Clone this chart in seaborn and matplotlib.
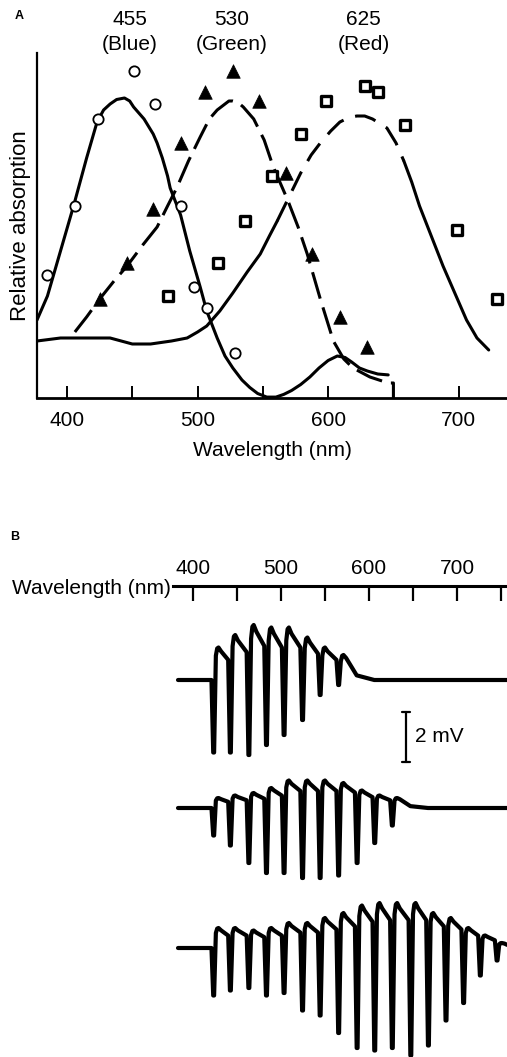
import matplotlib
matplotlib.use("Agg")
import numpy as np
import matplotlib.pyplot as plt
import seaborn as sns

# ---------------- Panel A data (relative absorption) ----------------
BLUE_CURVE_NM = [377, 385, 395, 405, 415, 423, 428, 433, 438, 444, 448, 451, 459, 466, 469, 473, 477, 479,
                 487, 494, 502, 507, 515, 521, 527, 534, 540, 546, 553, 560, 566, 572, 579, 586, 593,
                 600, 607, 613, 618, 624, 630, 638, 646]
BLUE_CURVE_Y = [0.26, 0.34, 0.49, 0.64, 0.80, 0.92, 0.96, 0.98, 0.995, 1.00, 0.99, 0.97, 0.93, 0.88, 0.85,
                0.80, 0.74, 0.70, 0.61, 0.49, 0.37, 0.29, 0.20, 0.14, 0.10, 0.06, 0.035, 0.015, 0.003, 0.003,
                0.012, 0.025, 0.045, 0.07, 0.10, 0.125, 0.14, 0.135, 0.12, 0.10, 0.09, 0.08, 0.077]

GREEN_CURVE_NM = [406, 415, 425, 436, 446, 458, 469, 477, 484, 493, 502, 509, 515, 521, 524, 527, 531,
                  535, 543, 551, 558, 564, 569, 577, 584, 594, 604, 612, 619, 632, 646, 650, 650]
GREEN_CURVE_Y = [0.22, 0.27, 0.33, 0.39, 0.44, 0.51, 0.57, 0.64, 0.70, 0.79, 0.87, 0.93, 0.96, 0.98, 0.99,
                 0.99, 0.985, 0.97, 0.93, 0.86, 0.77, 0.71, 0.66, 0.57, 0.48, 0.33, 0.19, 0.13, 0.10, 0.07,
                 0.05, 0.05, 0.0]

RED_CURVE_NM = [377, 395, 410, 433, 450, 464, 480, 492, 500, 507, 517, 527, 538, 548, 555, 561,
                570, 579, 587, 594, 602, 609, 616, 622, 628, 634, 645, 652, 658, 664, 670, 679, 688,
                697, 706, 714, 723]
RED_CURVE_Y = [0.19, 0.20, 0.20, 0.20, 0.18, 0.18, 0.19, 0.20, 0.22, 0.24, 0.29, 0.35, 0.42, 0.48, 0.54, 0.59,
               0.67, 0.75, 0.81, 0.85, 0.89, 0.92, 0.935, 0.94, 0.94, 0.93, 0.90, 0.85, 0.79, 0.72, 0.64, 0.54,
               0.44, 0.35, 0.26, 0.20, 0.16]

BLUE_PTS_NM = [385, 406, 424, 451, 467, 487, 497, 507, 529]
BLUE_PTS_Y = [0.41, 0.64, 0.93, 1.09, 0.98, 0.64, 0.37, 0.30, 0.15]

GREEN_PTS_NM = [425, 446, 466, 487, 506, 527, 547, 568, 588, 609, 630]
GREEN_PTS_Y = [0.33, 0.45, 0.63, 0.85, 1.02, 1.09, 0.99, 0.75, 0.48, 0.27, 0.17]

RED_PTS_NM = [477, 516, 536, 557, 579, 598, 628, 638, 659, 699, 729]
RED_PTS_Y = [0.34, 0.45, 0.59, 0.74, 0.88, 0.99, 1.04, 1.02, 0.91, 0.56, 0.33]

PEAK_LABELS = ["455", "530", "625"]
PEAK_NAMES = ["(Blue)", "(Green)", "(Red)"]
XTICKS_A = [400, 500, 600, 700]
XMINOR_A = [450, 550, 650]

# ---------------- Panel B data (responses, mV) ----------------
FLASH_NM = [423, 442, 463, 483, 503, 524, 544, 565, 586, 606, 626, 647, 667, 687, 707, 726, 745]
TRACE1_SPIKE = [-2.9, -2.9, -3.0, -2.6, -2.2, -1.6, -0.6, -0.2, 0, 0, 0, 0, 0, 0, 0, 0, 0]
TRACE1_HUMP = [1.3, 1.8, 2.2, 2.1, 2.1, 1.7, 1.3, 1.0, 0, 0, 0, 0, 0, 0, 0, 0, 0]
TRACE2_SPIKE = [-1.1, -1.5, -2.2, -2.6, -2.6, -2.8, -2.8, -2.7, -2.2, -1.4, -0.7, 0, 0, 0, 0, 0, 0]
TRACE2_HUMP = [0.4, 0.5, 0.6, 0.8, 1.1, 1.1, 1.1, 1.0, 0.7, 0.5, 0.4, 0, 0, 0, 0, 0, 0]
TRACE3_SPIKE = [-1.9, -1.7, -1.6, -1.9, -1.8, -2.5, -2.7, -3.4, -4.0, -4.1, -4.0, -4.3, -3.9, -2.9, -2.2, -1.1, -0.5]
TRACE3_HUMP = [0.8, 0.8, 0.7, 0.8, 1.0, 1.0, 1.2, 1.4, 1.7, 1.8, 1.8, 1.8, 1.4, 1.2, 0.8, 0.5, 0.2]
TRACE_OFFSETS = [0.0, -5.12, -10.72]
TRACE_START_NM = 383
TRACE_END_NM = 757
XTICKS_B = [400, 500, 600, 700]
XMINOR_B = [450, 550, 650, 750]
SCALE_MV = 2

# ---------------- style ----------------
sns.set_style("white")
plt.rcParams["font.family"] = ["Liberation Sans", "DejaVu Sans"]
plt.rcParams["text.color"] = "black"
plt.rcParams["axes.labelcolor"] = "black"
plt.rcParams["xtick.color"] = "black"
plt.rcParams["ytick.color"] = "black"

W, H = 507, 1057
fig = plt.figure(figsize=(W / 100, H / 100), dpi=100)

# ================= Panel A =================
axA = fig.add_axes([37 / W, 1 - 398 / H, 470 / W, 345 / H])
LW = 2.2
sns.lineplot(x=BLUE_CURVE_NM, y=BLUE_CURVE_Y, ax=axA, color="black", lw=LW,
             sort=False, estimator=None)
sns.lineplot(x=GREEN_CURVE_NM, y=GREEN_CURVE_Y, ax=axA, color="black", lw=LW,
             sort=False, estimator=None, linestyle=(0, (9, 3)))

red_nm = np.array(RED_CURVE_NM)
red_y = np.array(RED_CURVE_Y)
m1 = red_nm <= 561
m2 = (red_nm >= 561) & (red_nm <= 658)
m3 = red_nm >= 658
sns.lineplot(x=red_nm[m1], y=red_y[m1], ax=axA, color="black", lw=LW, sort=False, estimator=None)
sns.lineplot(x=red_nm[m2], y=red_y[m2], ax=axA, color="black", lw=LW, sort=False, estimator=None,
             linestyle=(0, (7, 4)))
sns.lineplot(x=red_nm[m3], y=red_y[m3], ax=axA, color="black", lw=LW, sort=False, estimator=None)

sns.scatterplot(x=BLUE_PTS_NM, y=BLUE_PTS_Y, ax=axA, marker="o", s=55,
                facecolor="white", edgecolor="black", linewidth=1.3, zorder=5, clip_on=False)
sns.scatterplot(x=GREEN_PTS_NM, y=GREEN_PTS_Y, ax=axA, marker="^", s=95,
                color="black", edgecolor="black", linewidth=0.5, zorder=5, clip_on=False)
sns.scatterplot(x=RED_PTS_NM, y=RED_PTS_Y, ax=axA, marker="s", s=42,
                facecolor="white", edgecolor="black", linewidth=2.4, zorder=5, clip_on=False)

axA.set_xlim(377, 737)
axA.set_ylim(0, 1.15)
axA.set_yticks([])
axA.set_xticks(XTICKS_A)
axA.set_xticks(XMINOR_A, minor=True)
axA.set_xticklabels([str(v) for v in XTICKS_A], fontsize=15)
axA.tick_params(axis="x", which="both", direction="in", length=8.5, width=1.4, pad=9, bottom=True)
for s in ["top", "right"]:
    axA.spines[s].set_visible(False)
axA.spines["left"].set_linewidth(1.6)
axA.spines["bottom"].set_linewidth(2.0)
axA.spines["left"].set_color("black")
axA.spines["bottom"].set_color("black")
axA.set_xlabel("Wavelength (nm)", fontsize=15, labelpad=8)
axA.set_ylabel("Relative absorption", fontsize=16, labelpad=4)

for xpos, lab, name in zip([448, 526, 627], PEAK_LABELS, PEAK_NAMES):
    axA.text(xpos, 1.26, lab, ha="center", va="center", fontsize=15, clip_on=False)
    axA.text(xpos, 1.177, name, ha="center", va="center", fontsize=15, clip_on=False)

fig.text(19 / W, 1 - 16 / H, "A", fontsize=9, fontweight="bold", ha="center", va="center")

# ================= Panel B =================
axB = fig.add_axes([173 / W, 0, 334 / W, (H - 586) / H])
axB.set_xlim(377.3, 756.8)
axB.set_ylim(-15.08, 3.76)


def build_trace(spikes, humps, offset):
    xs = [TRACE_START_NM]
    ys = [offset]
    level = 0.0
    for w, sp, hu in zip(FLASH_NM, spikes, humps):
        if sp == 0 and hu == 0:
            xs.append(w)
            ys.append(offset + 0.3 * level)
            level = 0.0
            continue
        xs += [w - 2.0, w, w + 1.0, w + 3.0, w + 4.5, w + 6.0, w + 9.0]
        ys += [offset + level, offset + sp, offset + sp,
               offset + 0.75 * hu, offset + 0.97 * hu, offset + hu, offset + 0.88 * hu]
        level = 0.62 * hu
    xs.append(TRACE_END_NM)
    ys.append(offset + level)
    return xs, ys


for sp, hu, off in zip([TRACE1_SPIKE, TRACE2_SPIKE, TRACE3_SPIKE],
                       [TRACE1_HUMP, TRACE2_HUMP, TRACE3_HUMP], TRACE_OFFSETS):
    xs, ys = build_trace(sp, hu, off)
    sns.lineplot(x=xs, y=ys, ax=axB, color="black", lw=3.0, sort=False, estimator=None,
                 clip_on=False)

# scale bar
sb_x, sb_top = 642, -1.28
axB.plot([sb_x, sb_x], [sb_top, sb_top - SCALE_MV], color="black", lw=1.6)
axB.plot([sb_x - 4.5, sb_x + 4.5], [sb_top, sb_top], color="black", lw=1.6)
axB.plot([sb_x - 4.5, sb_x + 4.5], [sb_top - SCALE_MV, sb_top - SCALE_MV], color="black", lw=1.6)
axB.text(sb_x + 10, sb_top - SCALE_MV / 2, f"{SCALE_MV} mV", fontsize=15, ha="left", va="center")

axB.set_yticks([])
axB.xaxis.set_ticks_position("top")
axB.set_xticks(XTICKS_B)
axB.set_xticks(XMINOR_B, minor=True)
axB.set_xticklabels([str(v) for v in XTICKS_B], fontsize=15)
axB.tick_params(axis="x", which="both", direction="in", length=11, width=1.6, pad=6,
                top=True, bottom=False, labeltop=True, labelbottom=False)
for s in ["left", "right", "bottom"]:
    axB.spines[s].set_visible(False)
axB.spines["top"].set_linewidth(2.2)
axB.spines["top"].set_color("black")
axB.set_xlabel("")
axB.set_ylabel("")

fig.text(171 / W, 1 - 588 / H, "Wavelength (nm)", fontsize=15, ha="right", va="center")
fig.text(15 / W, 1 - 537 / H, "B", fontsize=9, fontweight="bold", ha="center", va="center")

fig.savefig("out.png", dpi=100)
